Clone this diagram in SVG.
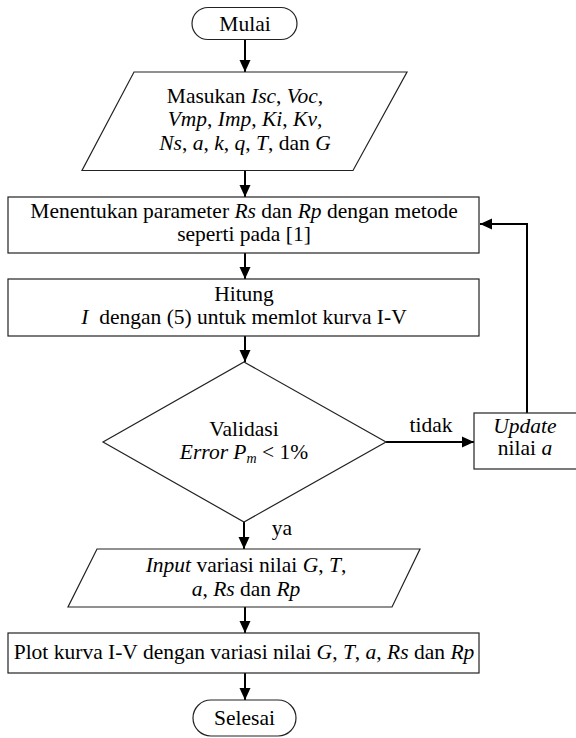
<svg xmlns="http://www.w3.org/2000/svg" width="576" height="738" viewBox="0 0 576 738">
<defs>
<marker id="ah" markerUnits="userSpaceOnUse" markerWidth="14" markerHeight="14" viewBox="0 0 14 14" refX="13" refY="7" orient="auto">
<path d="M1,1.5 L13,7 L1,12.5 Z" fill="#000"/>
</marker>
<style>
.s{fill:#fff;stroke:#222;stroke-width:1.2}
.c{fill:none;stroke:#000;stroke-width:2;marker-end:url(#ah)}
.t{font-family:'Liberation Serif','Times New Roman',serif;font-size:21.5px;text-anchor:middle;fill:#000}
.i{font-style:italic}
</style>
</defs>
<rect width="576" height="738" fill="#fff"/>
<g id="connectors">
<path class="c" d="M245,40 V72"/>
<path class="c" d="M245,171 V197"/>
<path class="c" d="M245,253 V279"/>
<path class="c" d="M245,336 V362"/>
<path class="c" d="M386,442 H474"/>
<path class="c" d="M527,413 V224 H480"/>
<path class="c" d="M244,522 V549"/>
<path class="c" d="M245,607 V633"/>
<path class="c" d="M245,673 V700"/>
<text x="431" y="432" class="t">tidak</text>
<text x="282" y="535" class="t">ya</text>
</g>
<g id="mulai">
<rect class="s" x="192" y="7.5" width="105" height="32" rx="16"/>
<text x="245" y="31" class="t">Mulai</text>
</g>
<g id="masukan">
<polygon class="s" points="134,72 407,72 353,170.5 82,170.5"/>
<text x="245" y="103" class="t">Masukan <tspan class="i">Isc</tspan>, <tspan class="i">Voc</tspan>,</text>
<text x="245" y="126" class="t"><tspan class="i">Vmp</tspan>, <tspan class="i">Imp</tspan>, <tspan class="i">Ki</tspan>, <tspan class="i">Kv</tspan>,</text>
<text x="245" y="150" class="t"><tspan class="i">Ns</tspan>, <tspan class="i">a</tspan>, <tspan class="i">k</tspan>, <tspan class="i">q</tspan>, <tspan class="i">T</tspan>, dan <tspan class="i">G</tspan></text>
</g>
<g id="menentukan">
<rect class="s" x="8" y="197" width="471" height="56"/>
<text x="244" y="218" class="t">Menentukan parameter <tspan class="i">Rs</tspan> dan <tspan class="i">Rp</tspan> dengan metode</text>
<text x="244" y="241" class="t">seperti pada [1]</text>
</g>
<g id="hitung">
<rect class="s" x="8" y="279" width="471" height="57"/>
<text x="244" y="301" class="t">Hitung</text>
<text x="244" y="324" class="t"><tspan class="i">I</tspan>&#160; dengan (5) untuk memlot kurva I-V</text>
</g>
<g id="validasi">
<polygon class="s" points="244,362 386,442 244,522 103,442"/>
<text x="244" y="436" class="t">Validasi</text>
<text x="244" y="459" class="t"><tspan class="i">Error P</tspan><tspan class="i" font-size="14" dy="4">m</tspan><tspan dy="-4"> &lt; 1%</tspan></text>
</g>
<g id="update">
<rect class="s" x="474" y="413" width="103" height="56"/>
<text x="525" y="433" class="t i">Update</text>
<text x="525" y="455" class="t">nilai <tspan class="i">a</tspan></text>
</g>
<g id="input">
<polygon class="s" points="97,549 420,549 392,607 68,607"/>
<text x="246" y="572" class="t"><tspan class="i">Input</tspan> variasi nilai <tspan class="i">G</tspan>, <tspan class="i">T</tspan>,</text>
<text x="246" y="596" class="t"><tspan class="i">a</tspan>, <tspan class="i">Rs</tspan> dan <tspan class="i">Rp</tspan></text>
</g>
<g id="plot">
<rect class="s" x="8" y="633" width="471" height="40"/>
<text x="244" y="659" class="t">Plot kurva I-V dengan variasi nilai <tspan class="i">G</tspan>, <tspan class="i">T</tspan>, <tspan class="i">a</tspan>, <tspan class="i">Rs</tspan> dan <tspan class="i">Rp</tspan></text>
</g>
<g id="selesai">
<rect class="s" x="193" y="700" width="103" height="36" rx="18"/>
<text x="244.5" y="725" class="t">Selesai</text>
</g>
</svg>
